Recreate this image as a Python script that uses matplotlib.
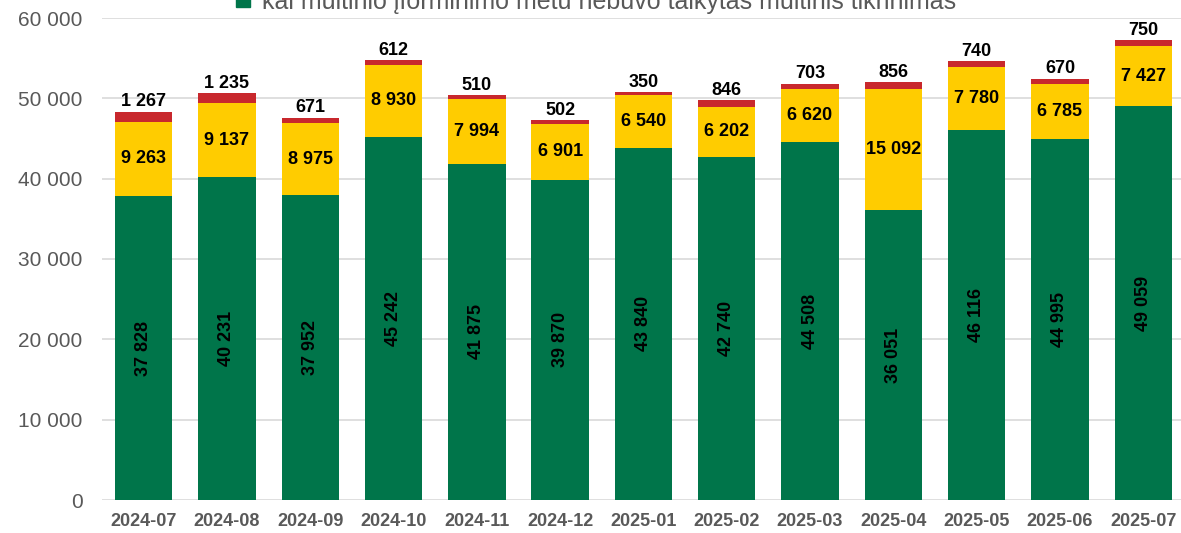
import matplotlib.pyplot as plt
from matplotlib.patches import Patch

plt.rcParams['font.family'] = ['Liberation Sans', 'DejaVu Sans']

# Data
months = ['2024-07', '2024-08', '2024-09', '2024-10', '2024-11', '2024-12', '2025-01',
          '2025-02', '2025-03', '2025-04', '2025-05', '2025-06', '2025-07']
green = [37828, 40231, 37952, 45242, 41875, 39870, 43840, 42740, 44508, 36051, 46116, 44995, 49059]
yellow = [9263, 9137, 8975, 8930, 7994, 6901, 6540, 6202, 6620, 15092, 7780, 6785, 7427]
red = [1267, 1235, 671, 612, 510, 502, 350, 846, 703, 856, 740, 670, 750]
legend_label = 'kai muitinio įforminimo metu nebuvo taikytas muitinis tikrinimas'

c_green = '#00754A'
c_yellow = '#FFCC00'
c_red = '#C8282D'
c_text = '#595959'

def fmt(v):
    return f'{v:,}'.replace(',', ' ')

fig = plt.figure(figsize=(11.81, 5.33), dpi=100)
ax = fig.add_axes([102/1181, 1-500/533, 1-102/1181, (500-18)/533])

x = list(range(len(months)))
w = 0.69
ax.bar(x, green, width=w, color=c_green, zorder=2)
ax.bar(x, yellow, width=w, bottom=green, color=c_yellow, zorder=2)
bottom2 = [g + y for g, y in zip(green, yellow)]
ax.bar(x, red, width=w, bottom=bottom2, color=c_red, zorder=2)

for i in x:
    ax.text(i, green[i]/2, fmt(green[i]), rotation=90, ha='center', va='center',
            fontsize=13, fontweight='bold', color='black', zorder=3)
    ax.text(i, green[i] + yellow[i]/2, fmt(yellow[i]), ha='center', va='center',
            fontsize=13, fontweight='bold', color='black', zorder=3)
    ax.annotate(fmt(red[i]), (i, bottom2[i] + red[i]), xytext=(0, 1),
                textcoords='offset points', ha='center', va='bottom',
                fontsize=13, fontweight='bold', color='black', zorder=3)

ax.set_ylim(0, 60000)
ax.set_xlim(-0.5, -0.5 + (1181-102)/83.3)
ax.set_yticks(range(0, 60001, 10000))
ax.set_yticklabels([fmt(v) for v in range(0, 60001, 10000)], fontsize=15, color=c_text)
ax.set_xticks(x)
ax.set_xticklabels(months, fontsize=13, fontweight='bold', color=c_text)
ax.tick_params(axis='y', length=0, pad=14)
ax.tick_params(axis='x', length=0, pad=9)
ax.grid(axis='y', color='#D9D9D9', linewidth=1.2, zorder=0)
for s in ax.spines.values():
    s.set_visible(False)

fig.legend(handles=[Patch(color=c_green)], labels=[legend_label], loc='center',
           bbox_to_anchor=(0.505, 0.997), frameon=False, fontsize=18,
           labelcolor=c_text, handlelength=0.55, handleheight=0.55, handletextpad=0.5)

plt.savefig('out.png')
